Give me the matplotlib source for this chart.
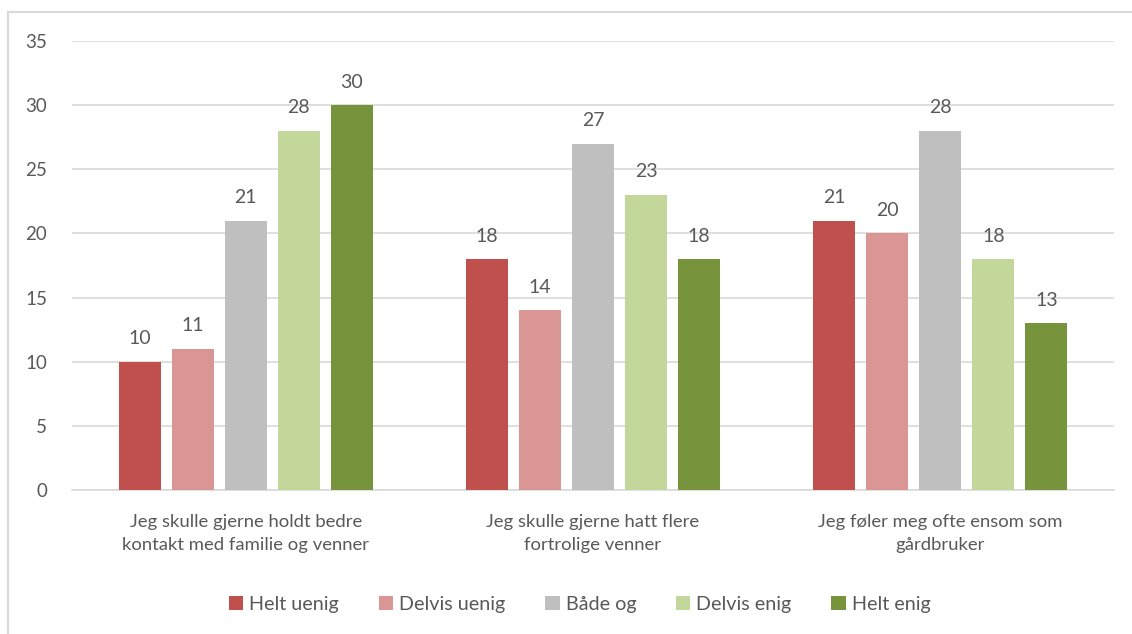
import matplotlib
matplotlib.use("Agg")
import matplotlib.pyplot as plt
from matplotlib.patches import Rectangle
import numpy as np

plt.rcParams['font.family'] = ['Lato', 'DejaVu Sans']

categories = [
    "Jeg skulle gjerne holdt bedre\nkontakt med familie og venner",
    "Jeg skulle gjerne hatt flere\nfortrolige venner",
    "Jeg føler meg ofte ensom som\ngårdbruker",
]
series_names = ["Helt uenig", "Delvis uenig", "Både og", "Delvis enig", "Helt enig"]
helt_uenig = [10, 18, 21]
delvis_uenig = [11, 14, 20]
baade_og = [21, 27, 28]
delvis_enig = [28, 23, 18]
helt_enig = [30, 18, 13]
series_values = [helt_uenig, delvis_uenig, baade_og, delvis_enig, helt_enig]
colors = ["#C0504D", "#D99694", "#BFBFBF", "#C4D79B", "#77933C"]
y_ticks = [0, 5, 10, 15, 20, 25, 30, 35]

text_color = "#595959"
grid_color = "#D9D9D9"

fig = plt.figure(figsize=(11.32, 6.34), dpi=100)
ax = fig.add_axes([72 / 1132, 144 / 634, (1114 - 72) / 1132, (490 - 41) / 634])

# outer frame of the chart area
fig.patches.append(Rectangle((8 / 1132, -0.1), 1.2, (634 - 12) / 634 + 0.1,
                             transform=fig.transFigure, fill=False,
                             edgecolor=grid_color, linewidth=1.5))

x = np.arange(len(categories))
bar_w = 0.121
step = 0.1526
offsets = (np.arange(len(series_names)) - 2) * step

for name, vals, col, off in zip(series_names, series_values, colors, offsets):
    bars = ax.bar(x + off, vals, width=bar_w, color=col, label=name, zorder=3)
    for b, v in zip(bars, vals):
        ax.annotate(str(v), (b.get_x() + b.get_width() / 2, v),
                    xytext=(0, 10.5), textcoords="offset points",
                    ha="center", va="bottom", fontsize=14, color=text_color)

ax.set_xlim(-0.5, 2.5)
ax.set_ylim(0, 35)
ax.set_yticks(y_ticks)
ax.yaxis.grid(True, color=grid_color, linewidth=1.2, zorder=0)
ax.set_axisbelow(True)
for s in ["top", "right", "left"]:
    ax.spines[s].set_visible(False)
ax.spines["bottom"].set_color(grid_color)
ax.spines["bottom"].set_linewidth(1.2)
ax.tick_params(axis="y", length=0, pad=18, labelsize=13.5, labelcolor=text_color)
ax.tick_params(axis="x", length=0, pad=17, labelsize=13.3, labelcolor=text_color)
ax.set_xticks(x)
ax.set_xticklabels(categories, linespacing=1.55)

leg = fig.legend(loc="center", bbox_to_anchor=(0.512, 0.047), ncol=5,
                 frameon=False, fontsize=14.2, handlelength=0.75, handleheight=0.75,
                 handletextpad=0.3, columnspacing=2.0)
for t in leg.get_texts():
    t.set_color(text_color)

fig.savefig("out.png", dpi=100)
